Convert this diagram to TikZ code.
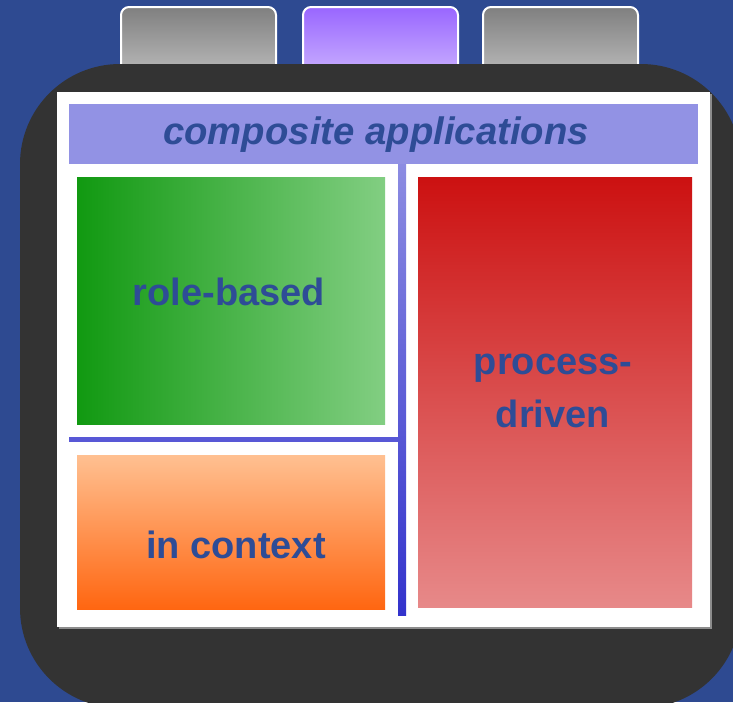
\documentclass[tikz,border=0pt]{standalone}
\usepackage{fontspec}
\setmainfont{Liberation Sans}
\definecolor{bgblue}{RGB}{46,74,145}
\definecolor{textblue}{RGB}{46,76,150}
\definecolor{darkframe}{RGB}{51,51,51}
\definecolor{headbar}{RGB}{146,146,228}
\definecolor{tabviolet}{RGB}{153,102,255}
\definecolor{tablilac}{RGB}{212,192,255}
\definecolor{sepblue}{RGB}{88,88,214}
\definecolor{septop}{RGB}{140,140,226}
\definecolor{sepbottom}{RGB}{51,51,204}
\definecolor{greendark}{RGB}{17,153,17}
\definecolor{greenlight}{RGB}{130,206,130}
\definecolor{orangelight}{RGB}{255,192,145}
\definecolor{orangedark}{RGB}{255,102,17}
\definecolor{reddark}{RGB}{204,17,17}
\definecolor{redlight}{RGB}{231,137,137}
\tikzset{
  tab/.style={draw=white, line width=2pt, rounded corners=8pt},
  boxtext/.style={font=\fontsize{38}{53}\selectfont\bfseries, text=textblue, align=center},
}

\begin{document}
\begin{tikzpicture}[x=1pt, y=-1pt]
			%%%%% START %%%%%
			\useasboundingbox (0, 0) rectangle (733, 702);
			\clip (0, 0) rectangle (733, 702);
			\fill[bgblue] (0, 0) rectangle (733, 702);
			
			% tabs
			\shade[tab, top color=black!50, bottom color=black!22] (121, 7) rectangle (276, 90);
			\shade[tab, top color=tabviolet, bottom color=tablilac] (303, 7) rectangle (458, 90);
			\shade[tab, top color=black!50, bottom color=black!22] (483, 7) rectangle (638, 90);
			
			% frame
			\fill[darkframe, rounded corners=100pt] (20, 64) rectangle (741, 708);
			\fill[black!45] (58.5, 93.5) rectangle (711.5, 628.5);
			\fill[white] (57, 92) rectangle (710, 627);
			
			% header
			\fill[headbar] (69, 104) rectangle (698, 164);
			\node[boxtext, font=\fontsize{38.3}{53}\selectfont\bfseries\itshape] (head) at (376, 135) {composite applications};
			
			% separators
			\shade[top color=septop, bottom color=sepbottom] (398, 164) rectangle (406, 615);
			\fill[sepblue] (69, 437) rectangle (398, 442);
			
			% boxes
			\shade[left color=greendark, right color=greenlight] (77, 177) rectangle (385, 424);
			\node[boxtext] (role) at (229, 292) {role-based};
			
			\shade[top color=orangelight, bottom color=orangedark] (77, 455) rectangle (385, 609);
			\node[boxtext] (context) at (236, 545) {in context};
			
			\shade[top color=reddark, bottom color=redlight] (418, 177) rectangle (692, 607);
			\node[boxtext] (process) at (553, 391) {process-\\driven};
			%%%%% END %%%%%
		\end{tikzpicture}
\end{document}
